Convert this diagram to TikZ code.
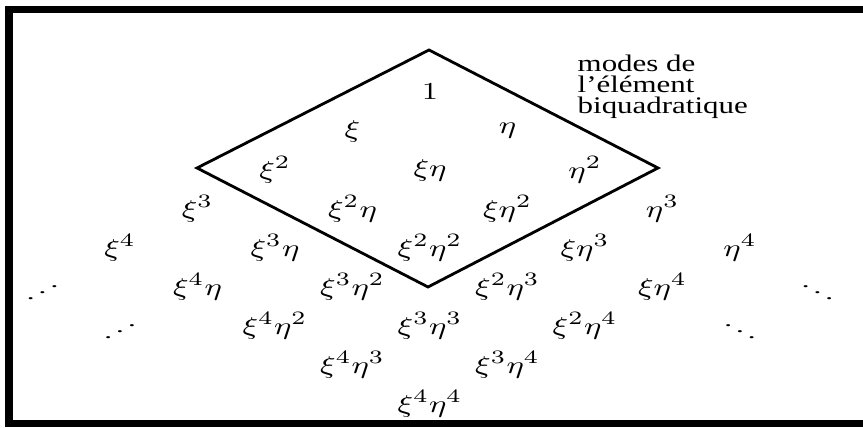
\documentclass[tikz,border=0pt]{standalone}
\usepackage[no-math]{fontspec}
\setmainfont{Liberation Serif}
\usepackage{graphicx}
\usetikzlibrary{positioning}

\newcommand{\squash}[1]{\scalebox{1}[0.77]{#1}}
\tikzset{
  mode/.style={inner sep=1pt, font=\fontsize{9.4}{11}\selectfont},
  frame/.style={line width=2pt},
  edge/.style={line width=0.8pt, line join=miter},
  note/.style={inner sep=0pt, font=\fontsize{8.8}{7.8}\selectfont},
}

\begin{document}
\begin{tikzpicture}
		\useasboundingbox (0,0) rectangle (8.63,4.28);
		%Outer frame, cut off at the right edge
		\coordinate (fa) at (8.90,4.185);
		\coordinate (fb) at (0.09,4.185);
		\coordinate (fc) at (0.09,0.045);
		\coordinate (fd) at (8.90,0.045);
		\draw[frame] (fa)--(fb)--(fc)--(fd);
		%Monomials xi^i eta^j
		\foreach \i/\j/\t in {0/0/1, 1/0/\xi, 0/1/\eta,
			2/0/\xi^2, 1/1/\xi\eta, 0/2/\eta^2,
			3/0/\xi^3, 2/1/\xi^2\eta, 1/2/\xi\eta^2, 0/3/\eta^3,
			4/0/\xi^4, 3/1/\xi^3\eta, 2/2/\xi^2\eta^2, 1/3/\xi\eta^3, 0/4/\eta^4,
			4/1/\xi^4\eta, 3/2/\xi^3\eta^2, 2/3/\xi^2\eta^3, 1/4/\xi\eta^4,
			4/2/\xi^4\eta^2, 3/3/\xi^3\eta^3, 2/4/\xi^2\eta^4,
			4/3/\xi^4\eta^3, 3/4/\xi^3\eta^4,
			4/4/\xi^4\eta^4}
		\node[mode] (m\i\j) at ({4.30+0.775*(\j-\i)},{3.36-0.39*(\i+\j)}) {\squash{$\t$}};
		%Dots
		\foreach \i/\j in {5/0,5/1}
		\node[mode] (m\i\j) at ({4.30+0.775*(\j-\i)},{3.36-0.39*(\i+\j)}) {\scalebox{-1}[0.55]{$\ddots$}};
		\foreach \i/\j in {0/5,1/5}
		\node[mode] (m\i\j) at ({4.30+0.775*(\j-\i)},{3.36-0.39*(\i+\j)}) {\scalebox{1}[0.55]{$\ddots$}};
		%Biquadratic element
		\coordinate (top) at (4.29,3.78);
		\coordinate (left) at (1.97,2.60);
		\coordinate (bot) at (4.28,1.41);
		\coordinate (right) at (6.58,2.60);
		\draw[edge] (top)--(left)--(bot)--(right)--cycle;
		\node[note, anchor=north west] (txt) at (5.77,3.74)
			{\squash{\vbox{\setlength{\lineskiplimit}{-5pt}\hbox{modes de}\hbox{l'élément}\hbox{biquadratique}}}};
\end{tikzpicture}
\end{document}
